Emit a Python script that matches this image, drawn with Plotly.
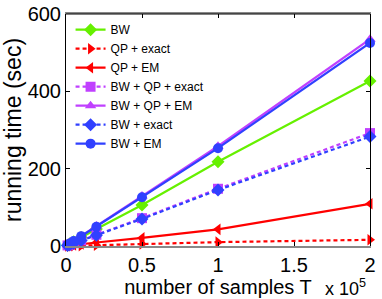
import plotly.graph_objects as go

x_vals = [0.01, 0.025, 0.05, 0.1, 0.2, 0.5, 1, 2]
bw = [2.2, 5.5, 11, 22, 44, 106, 218, 427]
qp_exact = [0.1, 0.3, 0.5, 1, 2, 5, 10, 16]
qp_em = [0.5, 1.2, 2.5, 5, 9, 21, 43, 109]
bw_qp_exact = [1.5, 3.6, 7.2, 14.5, 29, 72, 148, 292]
bw_qp_em = [2.7, 6.6, 13, 26, 52, 129, 258, 535]
bw_exact = [1.4, 3.5, 7, 14, 28, 70, 145, 283]
bw_em = [2.6, 6.4, 12.7, 25.5, 50, 126, 253, 525]

x_ticks = [0, 0.5, 1, 1.5, 2]
x_tick_labels = ["0", "0.5", "1", "1.5", "2"]
y_ticks = [0, 200, 400, 600]

GREEN = "#66F000"
RED = "#FF0000"
PURPLE = "#C040FF"
BLUE = "#3040FF"

series = [
    ("BW", bw, GREEN, "solid", "diamond"),
    ("QP + exact", qp_exact, RED, "4px,3px", "triangle-right"),
    ("QP + EM", qp_em, RED, "solid", "triangle-left"),
    ("BW + QP + exact", bw_qp_exact, PURPLE, "4px,3px", "square"),
    ("BW + QP + EM", bw_qp_em, PURPLE, "solid", "triangle-up"),
    ("BW + exact", bw_exact, BLUE, "4px,3px", "diamond"),
    ("BW + EM", bw_em, BLUE, "solid", "circle"),
]

fig = go.Figure()
for name, ys, color, dash, sym in series:
    fig.add_trace(go.Scatter(
        x=x_vals, y=ys, name=name, mode="lines+markers",
        line=dict(color=color, width=2.2, dash=dash),
        marker=dict(color=color, symbol=sym, size=10, line=dict(width=0)),
        cliponaxis=False,
    ))

FONT = "Liberation Sans, Arial, sans-serif"
fig.update_layout(
    width=382, height=299,
    margin=dict(l=66, r=12, t=14, b=53),
    paper_bgcolor="white", plot_bgcolor="white",
    font=dict(family=FONT, color="black"),
    showlegend=True,
    legend=dict(x=0.015, y=0.995, xanchor="left", yanchor="top",
                font=dict(size=12, family=FONT), bgcolor="rgba(255,255,255,0)",
                borderwidth=0, tracegroupgap=0, itemwidth=30),
    xaxis=dict(range=[0, 2], tickvals=x_ticks, ticktext=x_tick_labels,
               ticks="inside", ticklen=4, tickcolor="black",
               showline=True, linecolor="#888888", linewidth=2,
               mirror="ticks", showgrid=False, zeroline=False,
               tickfont=dict(size=20), automargin=False,
               title=dict(text="number of samples T", font=dict(size=20), standoff=0)),
    yaxis=dict(range=[0, 600], tickvals=y_ticks,
               ticks="inside", ticklen=4, tickcolor="black",
               showline=True, linecolor="black", linewidth=1,
               mirror="ticks", showgrid=False, zeroline=False,
               tickfont=dict(size=20), automargin=False,
               title=dict(text="running time (sec)", font=dict(size=23), standoff=0)),
    shapes=[dict(type="line", xref="paper", yref="paper", x0=0, x1=1, y0=1, y1=1,
                 line=dict(color="black", width=1), layer="above")],
    annotations=[dict(text="x 10<sup>5</sup>", xref="paper", yref="paper",
                      x=0.995, y=-0.12, xanchor="right", yanchor="top", showarrow=False,
                      font=dict(size=18, family=FONT))],
)

fig.write_html("out.html", config={"displayModeBar": False},
               post_script="document.body.style.margin='0';document.body.style.overflow='hidden';")
